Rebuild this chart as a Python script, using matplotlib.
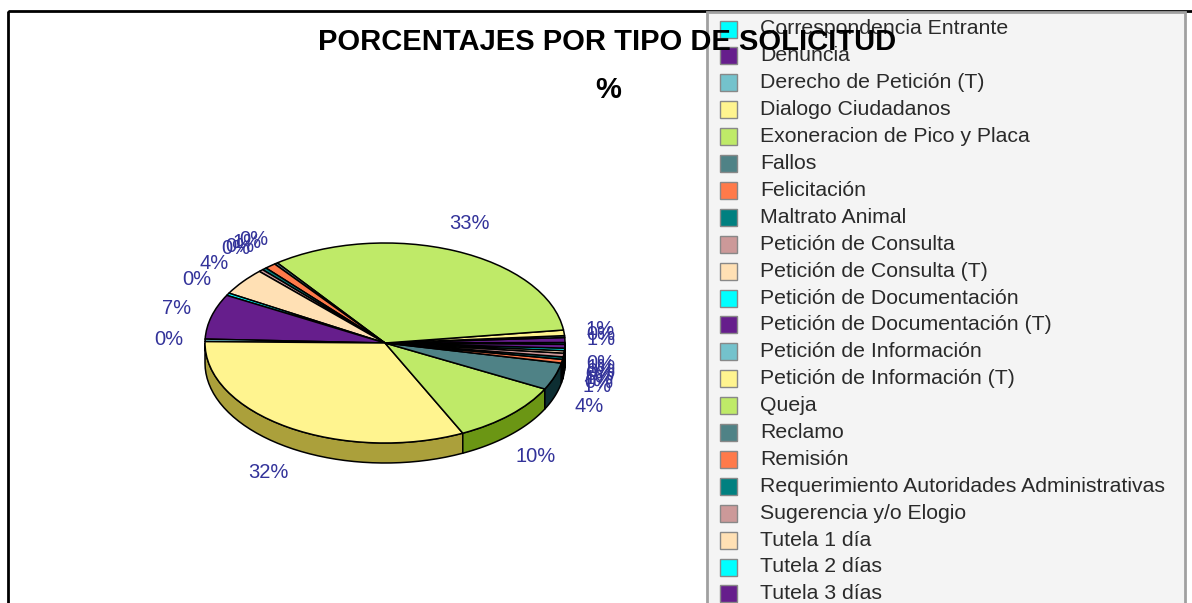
import numpy as np
import matplotlib.pyplot as plt
from matplotlib.patches import Wedge, Polygon, Rectangle
from matplotlib.transforms import Affine2D
import matplotlib.colors as mcolors

plt.rcParams['font.family'] = ['Liberation Sans', 'DejaVu Sans']

# -----------------------------
# Datos
# -----------------------------
categorias = [
    'Correspondencia Entrante', 'Denuncia', 'Derecho de Petición (T)',
    'Dialogo Ciudadanos', 'Exoneracion de Pico y Placa', 'Fallos',
    'Felicitación', 'Maltrato Animal', 'Petición de Consulta',
    'Petición de Consulta (T)', 'Petición de Documentación',
    'Petición de Documentación (T)', 'Petición de Información',
    'Petición de Información (T)', 'Queja', 'Reclamo', 'Remisión',
    'Requerimiento Autoridades Administrativas', 'Sugerencia y/o Elogio',
    'Tutela 1 día', 'Tutela 2 días', 'Tutela 3 días',
]
porcentajes = [0.3, 0.8, 0.3, 0.9, 33.2, 0.3, 1.0, 0.4, 0.4, 4.4, 0.4,
               7.3, 0.4, 32.4, 10.3, 4.4, 0.6, 0.4, 0.6, 0.4, 0.4, 0.6]

paleta = ['#00ffff', '#661e8c', '#74c2cc', '#fff48f', '#bfea68',
          '#4f8286', '#ff7a4a', '#008080', '#cc9999', '#ffe0b4']
colores = [paleta[i % len(paleta)] for i in range(len(categorias))]

titulo = 'PORCENTAJES POR TIPO DE SOLICITUD'
subtitulo = '%'

# -----------------------------
# Figura en coordenadas de pixel
# -----------------------------
W, H = 1192, 603
fig = plt.figure(figsize=(W / 100, H / 100), dpi=100)
ax = fig.add_axes([0, 0, 1, 1])
ax.set_xlim(0, W)
ax.set_ylim(H, 0)
ax.axis('off')

# marco del grafico
ax.add_patch(Rectangle((8, 11), 1200, 620, fill=False, ec='black', lw=2, zorder=0))

# -----------------------------
# Torta 3D
# -----------------------------
cx, cy, rx, ry, prof = 385, 343, 180, 100, 20
tr = Affine2D().scale(rx, -ry).translate(cx, cy) + ax.transData
d = prof / ry

vals = np.array(porcentajes)
total = vals.sum()
angulos = vals / total * 360
inicio = -0.8
bordes = inicio + np.concatenate([[0], np.cumsum(angulos)])

for i, col in enumerate(colores):
    a1, a2 = bordes[i], bordes[i + 1]
    # pared lateral (solo mitad frontal), color oscurecido
    lado = np.clip(np.array(mcolors.to_rgb(col)) - 0.33, 0.05, 1)
    for k in (-1, 0, 1):
        lo = max(a1, 180 + 360 * k)
        hi = min(a2, 360 + 360 * k)
        if hi > lo:
            t = np.radians(np.linspace(lo, hi, 40))
            arriba = np.column_stack([np.cos(t), np.sin(t)])
            abajo = np.column_stack([np.cos(t[::-1]), np.sin(t[::-1]) - d])
            ax.add_patch(Polygon(np.vstack([arriba, abajo]), closed=True,
                                 fc=lado, ec='black', lw=1.1,
                                 transform=tr, zorder=1))

for i, col in enumerate(colores):
    ax.add_patch(Wedge((0, 0), 1, bordes[i], bordes[i + 1], fc=col,
                       ec='black', lw=1.1, transform=tr, zorder=2))

# etiquetas de porcentaje
for i, v in enumerate(vals):
    m = np.radians((bordes[i] + bordes[i + 1]) / 2)
    x = cx + 1.2 * rx * np.cos(m)
    y = cy - 1.3 * ry * np.sin(m)
    if np.sin(m) < 0:
        y += prof
    ax.text(x, y, f'{v / total * 100:.0f}%', color='#33339a', fontsize=14.5,
            ha='center', va='center', zorder=3)

# -----------------------------
# Titulo
# -----------------------------
ax.text(607, 42, titulo, fontsize=21, fontweight='bold', ha='center',
        va='center', zorder=6)
ax.text(608, 90, subtitulo, fontsize=21, fontweight='bold', ha='center',
        va='center', zorder=6)

# -----------------------------
# Leyenda
# -----------------------------
ax.add_patch(Rectangle((707, 12), 478, 640, fc='#f4f4f4', ec='#a0a0a0',
                       lw=2, zorder=4))
for i, (nombre, col) in enumerate(zip(categorias, colores)):
    y = 29 + i * 26.9
    ax.add_patch(Rectangle((720, y - 8.5), 17, 17, fc=col, ec='#888888',
                           lw=1, zorder=5))
    ax.text(760, y, nombre, fontsize=15.3, color='#2a2a2a', ha='left',
            va='center', zorder=5)

fig.savefig('out.png', dpi=100)
